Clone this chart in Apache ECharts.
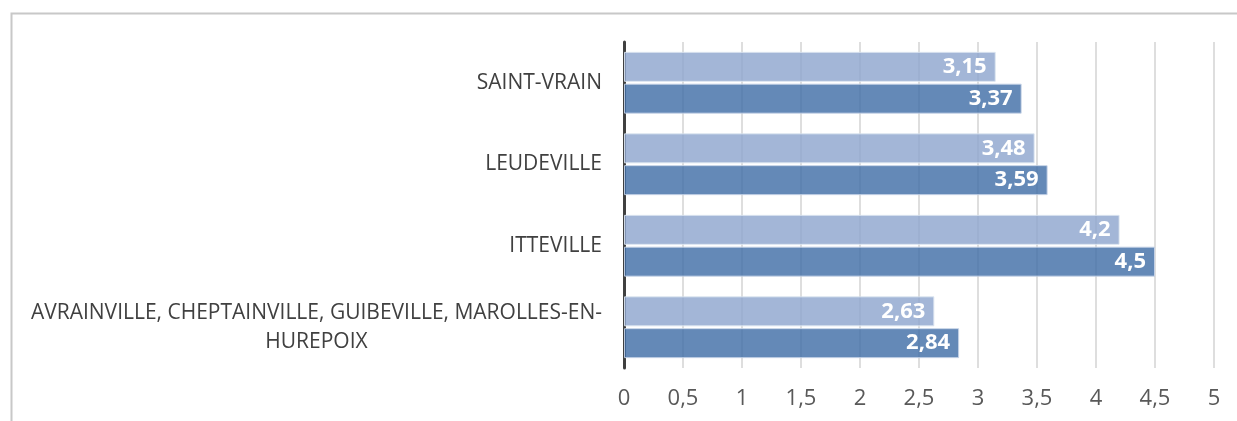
<!DOCTYPE html>
<html><head><meta charset="utf-8">
<script src="https://cdn.jsdelivr.net/npm/echarts@6/dist/echarts.min.js"></script>
<style>html,body{margin:0;padding:0;background:#fff}#c{width:1237px;height:421px}</style>
</head><body><div id="c"></div>
<script>
const categories = ['AVRAINVILLE, CHEPTAINVILLE, GUIBEVILLE, MAROLLES-EN-HUREPOIX', 'ITTEVILLE', 'LEUDEVILLE', 'SAINT-VRAIN'];
const seriesLight = [2.63, 4.2, 3.48, 3.15];
const seriesDark = [2.84, 4.5, 3.59, 3.37];
const xTicks = [0, 0.5, 1, 1.5, 2, 2.5, 3, 3.5, 4, 4.5, 5];

const fmt = v => String(v).replace('.', ',');
const chart = echarts.init(document.getElementById('c'));
const font = '"Open Sans", "Noto Sans", sans-serif';
chart.setOption({
  animation: false,
  graphic: [{type: 'polyline', shape: {points: [[11.5, 421], [11.5, 13.5], [1237, 13.5]]}, style: {stroke: '#c8c8c8', lineWidth: 2, fill: null}}],
  grid: {left: 624, right: 23, top: 42, bottom: 53},
  xAxis: {
    type: 'value', min: xTicks[0], max: xTicks[xTicks.length - 1], interval: 0.5,
    axisLine: {show: false}, axisTick: {show: false},
    splitLine: {lineStyle: {color: 'rgba(200,200,200,0.8)', width: 1.5}},
    axisLabel: {formatter: fmt, color: '#595959', fontSize: 22, fontFamily: font, margin: 20}
  },
  yAxis: {
    type: 'category', data: categories,
    axisLine: {lineStyle: {color: '#404040', width: 3}}, axisTick: {show: false},
    axisLabel: {
      color: '#404040', fontSize: 21, fontFamily: font, margin: 22, lineHeight: 29,
      formatter: v => v.indexOf('HUREPOIX') >= 0 ? v.replace('MAROLLES-EN-HUREPOIX', 'MAROLLES-EN-') + '\n{c|HUREPOIX}' : v,
      rich: {c: {align: 'center', color: '#404040', fontSize: 21, fontFamily: font, lineHeight: 29}}
    }
  },
  series: [
    {name: 'a', type: 'bar', data: seriesLight, barWidth: 30, barGap: '6%',
     itemStyle: {color: 'rgba(143,166,206,0.82)', borderColor: 'rgba(220,228,240,0.9)', borderWidth: 1},
     label: {show: true, position: 'insideRight', distance: 9, formatter: p => fmt(p.value), color: '#fff', fontWeight: 'bold', fontSize: 22, fontFamily: font}},
    {name: 'b', type: 'bar', data: seriesDark, barWidth: 30,
     itemStyle: {color: 'rgba(66,111,167,0.82)', borderColor: 'rgba(200,212,232,0.9)', borderWidth: 1},
     label: {show: true, position: 'insideRight', distance: 9, formatter: p => fmt(p.value), color: '#fff', fontWeight: 'bold', fontSize: 22, fontFamily: font}}
  ]
});
</script></body></html>
